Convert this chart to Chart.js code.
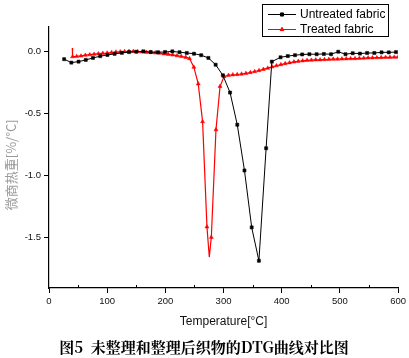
<!DOCTYPE html>
<html>
<head>
<meta charset="utf-8">
<script src="https://cdn.jsdelivr.net/npm/chart.js@4/dist/chart.umd.min.js"></script>
<style>
  html, body { margin: 0; padding: 0; background: #fff; }
  #wrap { width: 409px; height: 358px; position: relative; }
</style>
</head>
<body>
<div id="wrap"><canvas id="c"></canvas></div>
<script>
// ---- data ----
const untreatedT = [26, 38.4, 50.8, 63.2, 75.6, 88, 100.4, 112.8, 125.2, 137.6, 150, 162.4, 174.8, 187.2, 199.6, 212, 224.4, 236.8, 249.2, 261.6, 274, 286.4, 298.8, 311.2, 323.6, 336, 348.4, 360.8, 373.2, 383, 398, 410.4, 422.8, 435.2, 447.6, 460, 472.4, 484.8, 497.2, 509.6, 522, 534.4, 546.8, 559.2, 571.6, 584, 596.4];
const untreatedDTG = [-0.06, -0.088, -0.08, -0.066, -0.05, -0.036, -0.026, -0.017, -0.009, -0.003, 0.0, 0.003, -0.002, -0.004, -0.002, 0.003, -0.004, -0.01, -0.016, -0.028, -0.05, -0.105, -0.19, -0.33, -0.59, -0.96, -1.42, -1.69, -0.78, -0.08, -0.045, -0.035, -0.028, -0.022, -0.02, -0.02, -0.018, -0.02, 0.0, -0.02, -0.012, -0.015, -0.01, -0.01, -0.005, -0.005, -0.003];

const treatedT = [40, 40.5, 47.5, 55, 62.5, 70, 77.5, 85, 92.5, 100, 107.5, 115, 122.5, 130, 137.5, 145, 152.5, 160, 167.5, 175, 182.5, 190, 197.5, 205, 212.5, 220, 227.5, 235, 241.5, 249, 256.5, 264, 271.5, 275.5, 279, 287, 294, 301, 308.5, 316, 323.5, 331, 338.5, 346, 353.5, 361, 368.5, 376, 383.5, 391, 398.5, 406, 413.5, 421, 428.5, 436, 443.5, 451, 458.5, 466, 473.5, 481, 488.5, 496, 503.5, 511, 518.5, 526, 533.5, 541, 548.5, 556, 563.5, 571, 578.5, 586, 593.5, 600];
const treatedDTG = [0.03, -0.04, -0.038, -0.034, -0.028, -0.024, -0.02, -0.016, -0.013, -0.01, -0.006, -0.002, 0.0, 0.002, 0.003, 0.003, 0.001, -0.001, -0.004, -0.006, -0.009, -0.012, -0.017, -0.021, -0.026, -0.032, -0.038, -0.045, -0.055, -0.125, -0.26, -0.565, -1.416, -1.66, -1.5, -0.63, -0.28, -0.2, -0.19, -0.186, -0.184, -0.18, -0.175, -0.168, -0.16, -0.152, -0.142, -0.133, -0.122, -0.113, -0.104, -0.096, -0.089, -0.082, -0.077, -0.073, -0.07, -0.068, -0.066, -0.065, -0.063, -0.062, -0.06, -0.06, -0.058, -0.057, -0.056, -0.055, -0.053, -0.052, -0.05, -0.049, -0.048, -0.047, -0.046, -0.045, -0.044, -0.043];
const treatedNoMarker = [0, 33];

const seriesNames = ['Untreated fabric', 'Treated fabric'];
const xTicks = [0, 100, 200, 300, 400, 500, 600];
const xMinorTicks = [50, 150, 250, 350, 450, 550];
const yTicks = [0.0, -0.5, -1.0, -1.5];

const xTitle = 'Temperature[°C]';
const yTitle = '微商热重[%/°C]';
const caption = '图5  未整理和整理后织物的DTG曲线对比图';

const zip = (xs, ys) => xs.map((x, i) => ({ x: x, y: ys[i] }));
const LATIN = '"Liberation Sans", Arial, sans-serif';

const legendPlugin = {
  id: 'boxLegend',
  afterDraw(chart) {
    const ctx = chart.ctx;
    ctx.save();
    ctx.strokeStyle = '#000';
    ctx.lineWidth = 1;
    ctx.strokeRect(262.5, 4.5, 126, 32);
    chart.data.datasets.forEach((ds, i) => {
      const y = 14.5 + i * 15;
      ctx.strokeStyle = ds.borderColor;
      ctx.lineWidth = 1;
      ctx.beginPath();
      ctx.moveTo(268, y);
      ctx.lineTo(296, y);
      ctx.stroke();
      ctx.fillStyle = ds.backgroundColor;
      ctx.strokeStyle = ds.borderColor;
      Chart.helpers.drawPoint(ctx, { pointStyle: ds.pointStyle, radius: 2.2, rotation: 0, borderWidth: 1 }, 282, y);
      ctx.fillStyle = '#000';
      ctx.font = '12px ' + LATIN;
      ctx.textBaseline = 'middle';
      ctx.textAlign = 'left';
      ctx.fillText(ds.label, 300, y + 0.5);
    });
    ctx.restore();
  }
};

const extrasPlugin = {
  id: 'extras',
  afterDraw(chart) {
    const ctx = chart.ctx;
    const xs = chart.scales.x;
    const bottom = chart.chartArea.bottom;
    ctx.save();
    ctx.strokeStyle = '#000';
    ctx.lineWidth = 1;
    xMinorTicks.forEach(v => {
      const px = Math.round(xs.getPixelForValue(v)) + 0.5;
      ctx.beginPath();
      ctx.moveTo(px, bottom);
      ctx.lineTo(px, bottom - 3);
      ctx.stroke();
    });
    ctx.fillStyle = '#000';
    ctx.font = 'bold 15px "Noto Serif CJK SC", "Noto Sans CJK SC", serif';
    ctx.textAlign = 'center';
    ctx.textBaseline = 'middle';
    ctx.fillText(caption, 204, 347);
    ctx.restore();
  }
};

new Chart(document.getElementById('c'), {
  type: 'line',
  data: {
    datasets: [
      {
        label: seriesNames[0],
        data: zip(untreatedT, untreatedDTG),
        borderColor: '#000000',
        backgroundColor: '#000000',
        borderWidth: 1,
        pointStyle: 'rect',
        pointRadius: 2.2,
        pointBorderWidth: 0.5,
        tension: 0
      },
      {
        label: seriesNames[1],
        data: zip(treatedT, treatedDTG),
        borderColor: '#ff0000',
        backgroundColor: '#ff0000',
        borderWidth: 1.2,
        pointStyle: 'triangle',
        pointRadius: ctx => treatedNoMarker.includes(ctx.dataIndex) ? 0 : 2.3,
        pointBorderWidth: 0.5,
        tension: 0
      }
    ]
  },
  options: {
    responsive: true,
    maintainAspectRatio: false,
    animation: false,
    devicePixelRatio: 1,
    layout: { padding: { top: 27, right: 8, left: 0, bottom: 0 } },
    plugins: {
      legend: { display: false },
      tooltip: { enabled: false },
      title: { display: false }
    },
    scales: {
      x: {
        type: 'linear',
        min: 0,
        max: 600,
        afterFit: s => { s.height = 70; },
        afterBuildTicks: s => { s.ticks = xTicks.map(v => ({ value: v })); },
        grid: { display: true, drawOnChartArea: false, drawTicks: true, tickLength: 5, color: '#000', lineWidth: 1 },
        border: { display: true, color: '#000', width: 1.2 },
        ticks: { font: { family: LATIN, size: 9.5 }, color: '#111', padding: 3, maxRotation: 0, autoSkip: false },
        title: { display: true, text: xTitle, font: { family: LATIN, size: 12 }, color: '#111', padding: { top: 0, bottom: 28.8 } }
      },
      y: {
        type: 'linear',
        min: -1.91,
        max: 0.2,
        afterFit: s => { s.width = 49; },
        afterBuildTicks: s => { s.ticks = yTicks.map(v => ({ value: v })); },
        grid: { display: true, drawOnChartArea: false, drawTicks: true, tickLength: 5, color: '#000', lineWidth: 1 },
        border: { display: true, color: '#000', width: 1.2 },
        ticks: { font: { family: LATIN, size: 9.5 }, color: '#111', padding: 3, callback: v => v.toFixed(1) },
        title: { display: true, text: yTitle + '\u00a0\u00a0\u00a0\u00a0\u00a0', font: { family: '"Noto Sans CJK SC", sans-serif', size: 13 }, color: '#9a9a9a', padding: { top: 3, bottom: 0 } }
      }
    }
  },
  plugins: [legendPlugin, extrasPlugin]
});
</script>
</body>
</html>
